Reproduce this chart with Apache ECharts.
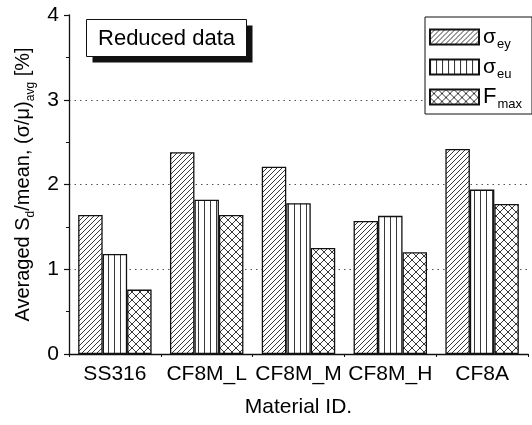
<!DOCTYPE html>
<html>
<head>
<meta charset="utf-8">
<script src="https://cdn.jsdelivr.net/npm/echarts@6/dist/echarts.min.js"></script>
<style>
  html, body { margin: 0; padding: 0; background: #fff; }
  #chart { width: 532px; height: 425px; }
</style>
</head>
<body>
<div id="chart"></div>
<script>
// Material groups on the x axis
const materials = ['SS316', 'CF8M_L', 'CF8M_M', 'CF8M_H', 'CF8A'];

// Averaged scatter (std/mean) in percent for each measured quantity
const sigmaEy = [1.64, 2.38, 2.21, 1.57, 2.42];
const sigmaEu = [1.18, 1.82, 1.78, 1.63, 1.94];
const fMax    = [0.76, 1.64, 1.25, 1.20, 1.77];

const yTicks = [0, 1, 2, 3, 4];

const FONT = '"Liberation Sans", Arial, sans-serif';
const INK = '#000';

// Hatch fills built as small repeating canvas tiles
function makeTile(w, h, draw) {
  const c = document.createElement('canvas');
  c.width = w; c.height = h;
  const g = c.getContext('2d');
  g.fillStyle = '#fff';
  g.fillRect(0, 0, w, h);
  g.strokeStyle = '#222';
  g.lineWidth = 0.9;
  draw(g, w, h);
  return c;
}
const diagTile = makeTile(5, 5, (g, w, h) => {
  g.beginPath();
  g.moveTo(-1, h + 1); g.lineTo(w + 1, -1);
  g.moveTo(-1, 1); g.lineTo(1, -1);
  g.moveTo(w - 1, h + 1); g.lineTo(w + 1, h - 1);
  g.stroke();
});
const vertTile = makeTile(6, 4, (g, w, h) => {
  g.beginPath();
  g.moveTo(0.5, 0); g.lineTo(0.5, h);
  g.stroke();
});
const crossTile = makeTile(8, 8, (g, w, h) => {
  g.beginPath();
  g.moveTo(0, 0); g.lineTo(w, h);
  g.moveTo(w, 0); g.lineTo(0, h);
  g.stroke();
});

function barSeries(name, data, tile) {
  return {
    name: name,
    type: 'bar',
    data: data,
    barGap: '0%',
    barCategoryGap: '20%',
    itemStyle: {
      color: { image: tile, repeat: 'repeat' },
      borderColor: '#111',
      borderWidth: 1.3
    },
    emphasis: { disabled: true }
  };
}

const chart = echarts.init(document.getElementById('chart'), null, { renderer: 'canvas' });

chart.setOption({
  animation: false,
  backgroundColor: '#fff',
  // Boxed caption with a solid drop shadow
  graphic: [
    {
      type: 'group',
      left: 86,
      top: 19,
      children: [
        { type: 'rect', shape: { x: 6, y: 6, width: 160, height: 37 }, style: { fill: '#111' } },
        { type: 'rect', shape: { x: 0, y: 0, width: 160, height: 37 }, style: { fill: '#fff', stroke: '#111', lineWidth: 1 } },
        {
          type: 'text', x: 80, y: 19,
          style: {
            text: 'Reduced data', fontFamily: FONT, fontSize: 22, fill: INK,
            align: 'center', verticalAlign: 'middle'
          }
        }
      ]
    }
  ],
  legend: {
    orient: 'vertical',
    left: 425,
    top: 17,
    padding: [6, 10, 3, 4],
    itemGap: 2,
    itemWidth: 49,
    itemHeight: 15,
    icon: 'rect',
    borderColor: '#111',
    borderWidth: 1,
    backgroundColor: '#fff',
    data: ['ey', 'eu', 'max'],
    formatter: function (n) {
      if (n === 'max') return '{f|F}{sub|max}';
      return '{s|σ}{sub|' + n + '}';
    },
    textStyle: {
      fontFamily: FONT,
      color: INK,
      padding: [0, 0, 0, -1],
      rich: {
        s: { fontFamily: FONT, fontSize: 21, color: INK, lineHeight: 22 },
        f: { fontFamily: FONT, fontSize: 22, color: INK, lineHeight: 22 },
        sub: { fontFamily: FONT, fontSize: 13, color: INK, padding: [15, 0, 0, 1], lineHeight: 13 }
      }
    }
  },
  grid: { left: 69, right: 4, top: 15, bottom: 71 },
  xAxis: [
    {
      type: 'category',
      data: materials,
      name: 'Material ID.',
      nameLocation: 'middle',
      nameGap: 43,
      nameTextStyle: { fontFamily: FONT, fontSize: 21, color: INK },
      axisLine: { lineStyle: { color: '#111', width: 1.3 } },
      axisTick: { alignWithLabel: true, length: 6, lineStyle: { color: '#111', width: 1.2 } },
      axisLabel: { fontFamily: FONT, fontSize: 21, color: INK, margin: 10, interval: 0, hideOverlap: false },
      splitLine: { show: false }
    },
    {
      type: 'category',
      data: materials,
      position: 'bottom',
      axisLine: { show: false },
      axisTick: { show: true, length: 3, lineStyle: { color: '#111', width: 1 } },
      axisLabel: { show: false },
      splitLine: { show: false }
    }
  ],
  yAxis: {
    type: 'value',
    min: yTicks[0],
    max: yTicks[yTicks.length - 1],
    interval: 1,
    name: 'Averaged S{sub|d}/mean, (σ/μ){sub|avg} [%]',
    nameLocation: 'middle',
    nameGap: 32,
    nameTextStyle: {
      fontFamily: FONT, fontSize: 20, color: INK,
      rich: {
        sub: { fontFamily: FONT, fontSize: 12, color: INK, padding: [13, 0, 0, 0] }
      }
    },
    axisLine: { show: true, lineStyle: { color: '#111', width: 1.3 } },
    axisTick: { show: true, length: 5, lineStyle: { color: '#111', width: 1.2 } },
    minorTick: { show: true, splitNumber: 2, length: 3, lineStyle: { color: '#111', width: 1 } },
    axisLabel: { fontFamily: FONT, fontSize: 21, color: INK, margin: 10 },
    splitLine: {
      show: true,
      showMinLine: false,
      showMaxLine: false,
      lineStyle: { color: '#555', width: 1, type: [1.5, 4] }
    }
  },
  series: [
    barSeries('ey', sigmaEy, diagTile),
    barSeries('eu', sigmaEu, vertTile),
    barSeries('max', fMax, crossTile)
  ]
});
</script>
</body>
</html>
